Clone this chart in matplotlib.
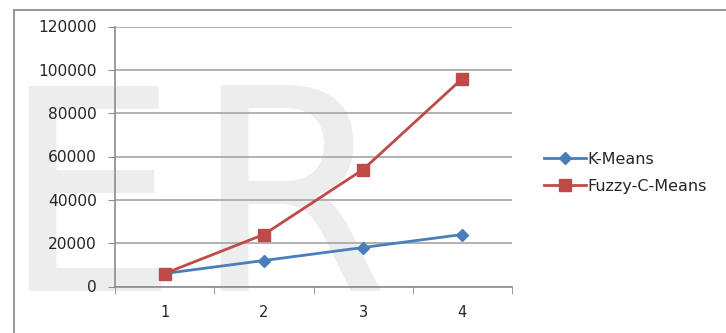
import numpy as np
import matplotlib.pyplot as plt
from matplotlib.patches import Rectangle

# data
categories = [1, 2, 3, 4]
kmeans = [6000, 12000, 18000, 24000]
fuzzy_cmeans = [6000, 24000, 54000, 96000]
yticks = [0, 20000, 40000, 60000, 80000, 100000, 120000]

W, H = 726, 333
fig = plt.figure(figsize=(W / 100, H / 100), dpi=100)
fig.patch.set_facecolor('white')

def px_axes(x0, y0, x1, y1):
    # axes rectangle from pixel corners (top-left origin)
    return [x0 / W, (H - y1) / H, (x1 - x0) / W, (y1 - y0) / H]

# faint background lettering
bg = fig.add_axes(px_axes(0, 0, W, H), zorder=0)
bg.set_xlim(0, W)
bg.set_ylim(H, 0)
bg.axis('off')
for ch, x in [('E', 0), ('R', 192)]:
    bg.text(x, 291, ch, fontsize=203, color='#ededed', family='DejaVu Sans',
            va='baseline', ha='left')

# chart frame
fig.patches.append(Rectangle((14 / W, -0.1), 1.2, (H - 10) / H + 0.1,
                             transform=fig.transFigure, fill=False,
                             edgecolor='#8c8c8c', linewidth=1.3))

ax = fig.add_axes(px_axes(115, 26.5, 512, 286.5), zorder=1)
ax.patch.set_alpha(0)

ax.plot(categories, kmeans, color='#4a7ebb', linewidth=2, marker='D',
        markersize=6.5, label='K-Means', zorder=3)
ax.plot(categories, fuzzy_cmeans, color='#be4b48', linewidth=2, marker='s',
        markersize=8.5, label='Fuzzy-C-Means', zorder=3)

ax.set_xlim(0.5, 4.5)
ax.set_ylim(0, 120000)
ax.set_yticks(yticks)
ax.set_yticklabels([str(v) for v in yticks])
ax.set_xticks(categories)
ax.set_xticks([0.5, 1.5, 2.5, 3.5, 4.5], minor=True)
ax.tick_params(axis='x', which='major', length=0, pad=13, labelsize=10.5,
               labelcolor='#262626')
ax.tick_params(axis='x', which='minor', length=5, color='#8c8c8c', direction='out')
ax.tick_params(axis='y', length=5, color='#8c8c8c', pad=8, labelsize=11.2,
               labelcolor='#262626')

ax.grid(axis='y', color='#ababab', linewidth=1.3)
ax.set_axisbelow(True)
for s in ['top', 'right']:
    ax.spines[s].set_visible(False)
ax.spines['left'].set_color('#8c8c8c')
ax.spines['bottom'].set_color('#8c8c8c')
ax.spines['left'].set_linewidth(1.2)
ax.spines['bottom'].set_linewidth(1.2)

ax.legend(loc='center left', bbox_to_anchor=(530 / W, (H - 173) / H),
          bbox_transform=fig.transFigure, frameon=False, fontsize=11.5,
          handlelength=2.6, handletextpad=0.1, labelspacing=0.75,
          labelcolor='#262626')

fig.savefig('out.png', dpi=100)
